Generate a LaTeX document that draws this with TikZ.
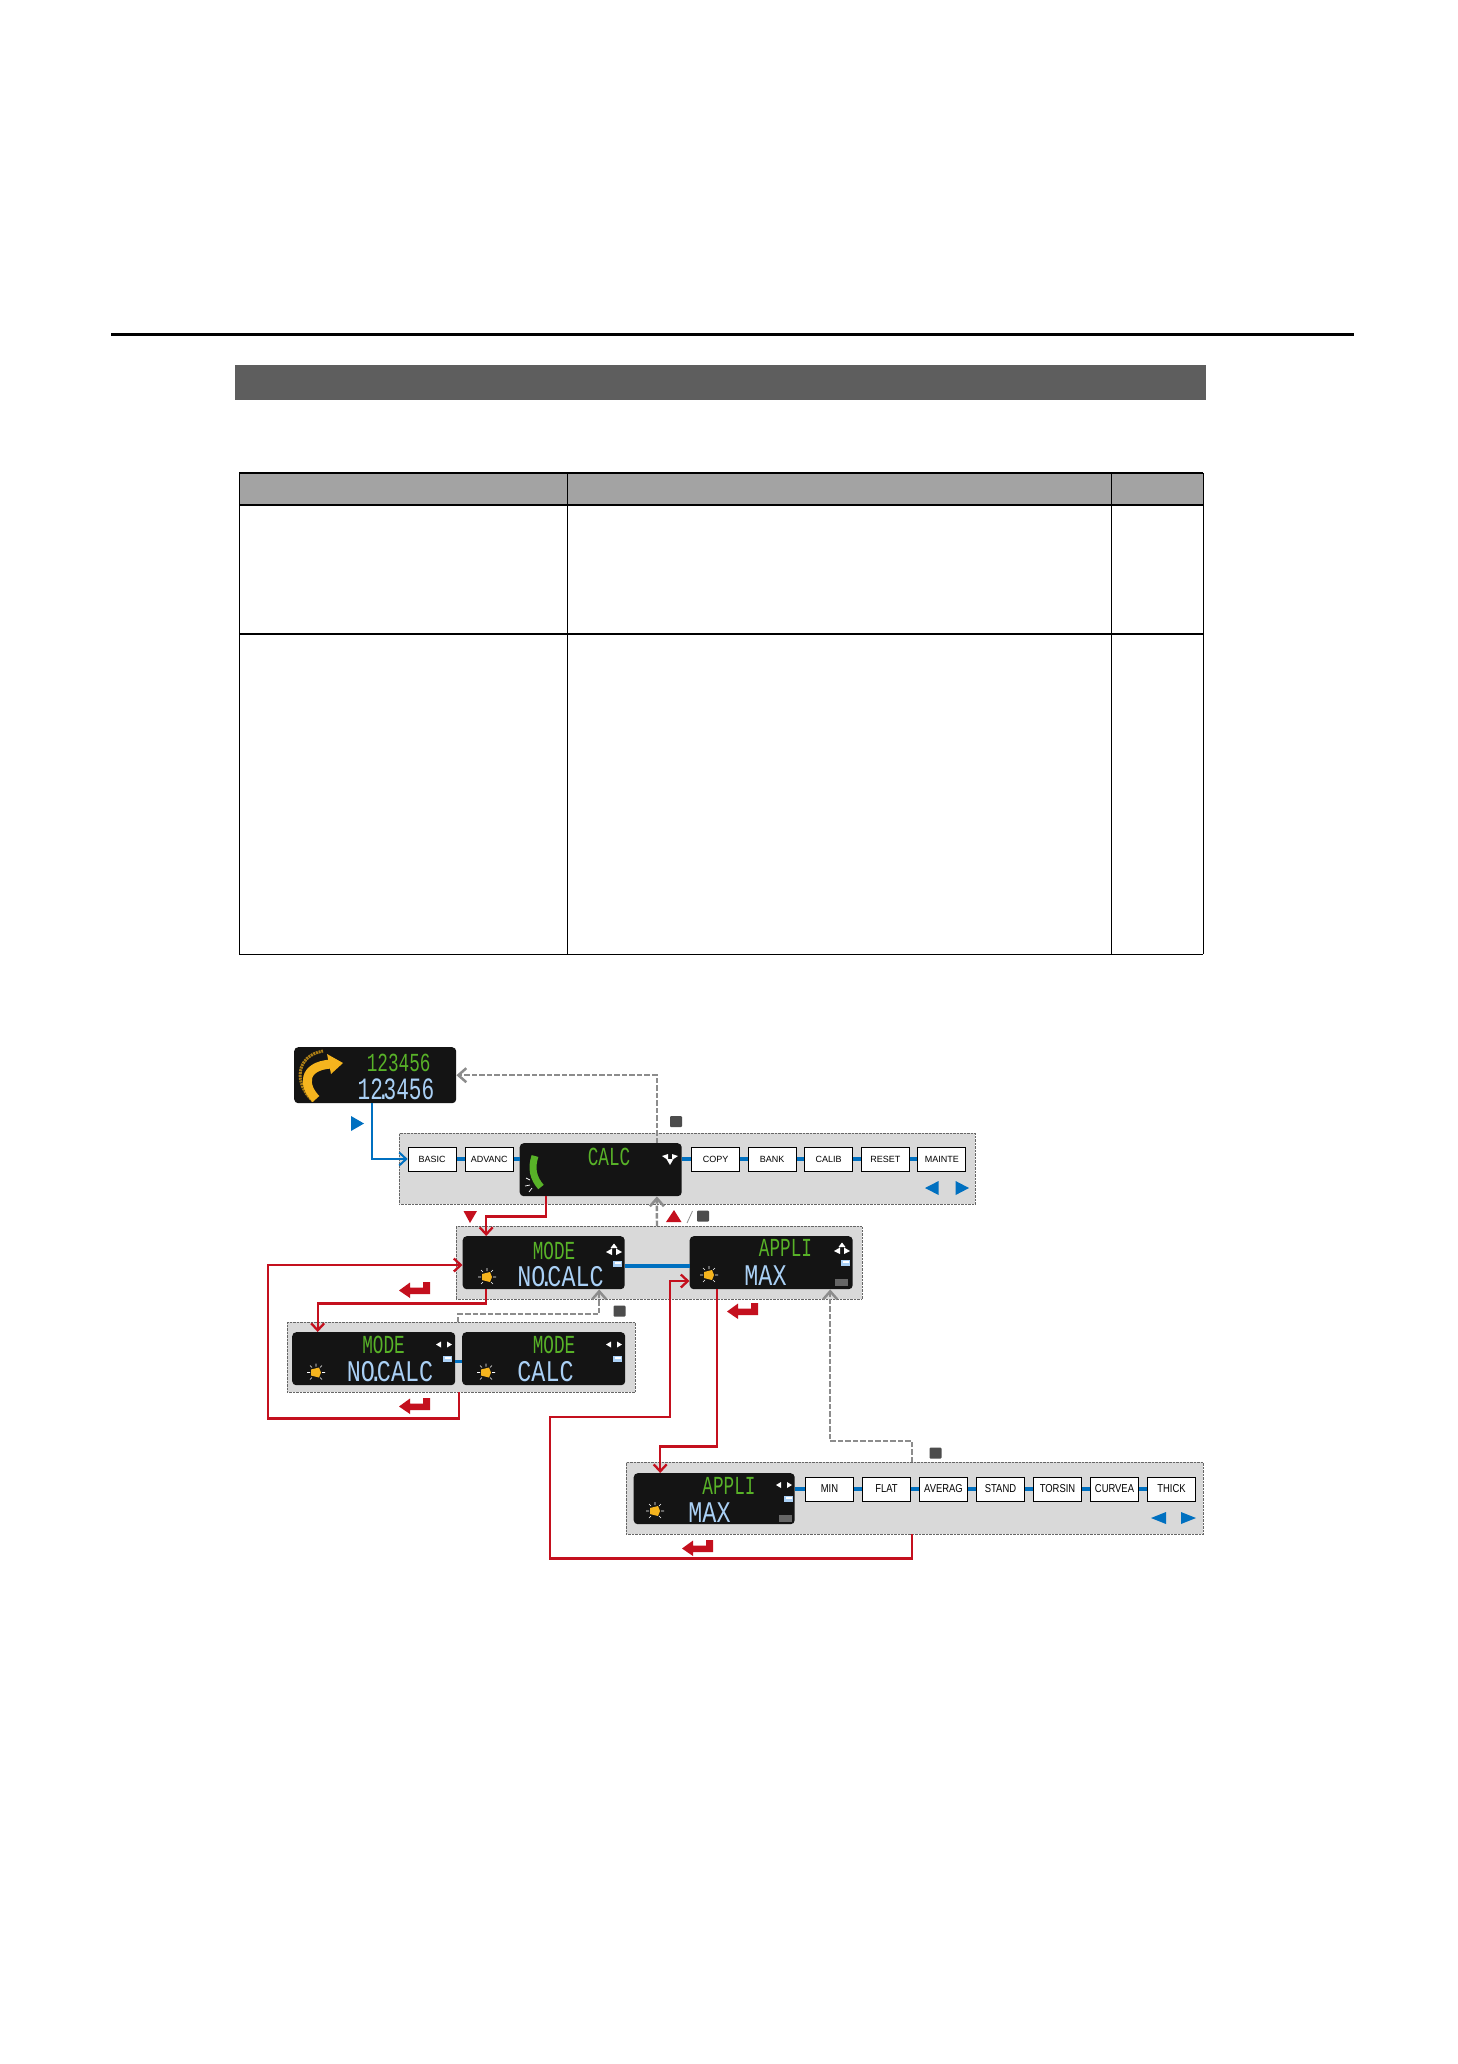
\documentclass[tikz,border=0pt]{standalone}
\usepackage{fontspec}
\setmainfont{Liberation Sans}
\newfontfamily\lcdtopfont[FakeStretch=0.68]{Liberation Mono}
\newfontfamily\lcdbotfont[FakeStretch=0.78]{Liberation Mono}
\newfontfamily\narrowfont[FakeStretch=0.82]{Liberation Sans}
\usepackage{xcolor}
\usepackage{tikz}
\usetikzlibrary{
	arrows.meta,
	positioning,
	calc
}
\definecolor{keyblue}{RGB}{0,112,192}
\definecolor{keyred}{RGB}{196,16,30}
\definecolor{backgray}{RGB}{140,140,140}
\definecolor{panelgray}{RGB}{217,217,217}
\definecolor{lcdgreen}{RGB}{88,178,40}
\definecolor{lcdblue}{RGB}{170,208,245}
\definecolor{sunorange}{RGB}{245,180,30}
\newcommand{\lcddot}{\kern-6pt.\kern-6pt}
\tikzset{
	titlebar/.style={
		fill=black!63,
		anchor=north west,
		inner sep=0pt,
		minimum width=971pt,
		minimum height=35pt
	},
	panel/.style={
		draw=black!60,
		densely dotted,
		fill=panelgray,
		anchor=north west,
		inner sep=0pt
	},
	display/.style={
		fill=black!92,
		rounded corners=4pt,
		anchor=north west,
		inner sep=0pt,
		minimum width=162pt,
		minimum height=53pt
	},
	menubox/.style={
		draw,
		fill=white,
		line width=1pt,
		inner sep=0pt,
		minimum width=48pt,
		minimum height=24pt
	},
	upperbox/.style={menubox, font=\fontsize{9}{10}\selectfont},
	lowerbox/.style={menubox, font=\fontsize{11.5}{13}\narrowfont},
	lcdtop/.style={inner sep=0pt, text=lcdgreen, font=\fontsize{26}{28}\lcdtopfont},
	lcdbot/.style={inner sep=0pt, text=lcdblue, font=\fontsize{30}{32}\lcdbotfont},
	link/.style={draw=keyblue, line width=3.2pt},
	enter/.style={
		draw=keyblue,
		line width=2pt,
		-{Straight Barb[length=7pt,width=13pt,line width=2pt]}
	},
	select/.style={
		draw=keyred,
		line width=2.3pt,
		-{Straight Barb[length=7pt,width=13pt,line width=2.3pt]}
	},
	back/.style={
		draw=backgray,
		line width=2.4pt,
		dash pattern=on 5.5pt off 2pt,
		-{Straight Barb[length=8pt,width=14pt,line width=2.5pt]}
	},
	stopkey/.style={
		fill=black!70,
		rounded corners=1pt,
		inner sep=0pt,
		minimum width=12pt,
		minimum height=11pt
	},
	pics/returnkey/.style={code={
		\fill[keyred] (0,8.5) -- (11,0.5) -- (11,5.5) -- (24,5.5) -- (24,0) -- (31,0)
			-- (31,12) -- (11,12) -- (11,16) -- cycle;
	}},
	pics/sunmark/.style={code={
		\draw[white, line width=0.6pt] (-9,0) -- (-6,0) (9,0) -- (6,0) (-6,-7) -- (-4,-5)
			(6,-7) -- (4,-5) (-6,7) -- (-4,5) (6,7) -- (4,5) (0,-9) -- (0,-6);
		\fill[sunorange] (-5,-3) -- (3,-5) -- (5,0) -- (3,5) -- (-5,3) -- cycle;
	}},
	pics/navlr/.style={code={
		\fill[white] (-8,0) -- (-3,-3) -- (-3,3) -- cycle (8,0) -- (3,-3) -- (3,3) -- cycle;
	}},
	pics/navup/.style={code={
		\fill[white] (-8,4) -- (-2,0.5) -- (-2,7) -- cycle (8,4) -- (2,0.5) -- (2,7) -- cycle
			(0,-4.5) -- (-3.5,0) -- (3.5,0) -- cycle;
	}},
	pics/navdown/.style={code={
		\fill[white] (-8,-3) -- (-2,-5) -- (-2,1) -- cycle (8,-3) -- (2,-5) -- (2,1) -- cycle
			(0,6) -- (-3.5,0) -- (3.5,0) -- cycle;
	}},
	pics/memomark/.style={code={
		\fill[lcdblue] (0,0) rectangle (9,5.5);
		\fill[white] (1.5,1) rectangle (7.5,2.5);
	}},
	pics/skipmark/.style={code={
		\fill[black!60] (0,0) rectangle (13,7);
	}}
}
\begin{document}
\begin{tikzpicture}[x=1pt, y=-1pt, node distance=8pt, line join=miter]
	\useasboundingbox (0,0) rectangle (1458,2064);
	\fill[white] (0,0) rectangle (1458,2064);

	% Page heading and the empty table
	\fill[black] (111,332.5) rectangle (1354,335.5);
	\node [titlebar] (heading) at (235,365) {};
	\fill[black!36] (239,473) rectangle (1203,505);
	\draw[line width=1.1pt] (239,473) -- (1203,473);
	\draw[line width=1.1pt] (239,505) -- (1203,505);
	\draw[line width=1.2pt] (239,634) -- (1203,634);
	\draw[line width=0.9pt] (239,954) -- (1203,954);
	\draw[line width=0.8pt] (239,473) -- (239,954);
	\draw[line width=0.8pt] (567,473) -- (567,954);
	\draw[line width=0.8pt] (1111,473) -- (1111,954);
	\draw[line width=0.8pt] (1203,473) -- (1203,954);

	% Grey panels behind each row
	\node [panel, minimum width=576pt, minimum height=71pt] (menupanel) at (399,1133) {};
	\node [panel, minimum width=405.5pt, minimum height=73pt] (setpanel) at (456,1226) {};
	\node [panel, minimum width=348pt, minimum height=70pt] (modepanel) at (287,1322) {};
	\node [panel, minimum width=577pt, minimum height=72pt] (applipanel) at (626,1462) {};

	% Row 1: Home display
	\node [display, minimum height=56pt] (home) at (294,1047) {};
	\draw[sunorange!70!black, line width=3pt, dash pattern=on 2pt off 0.8pt] (313,1101) .. controls (294,1084) and (295,1056) .. (323,1051);
	\draw[sunorange, line width=9pt] (316,1099) .. controls (303,1086) and (302,1066) .. (331,1064);
	\fill[sunorange] (327,1054) -- (343,1063) -- (331,1074) -- cycle;
	\node [lcdtop] (homeup) at (398.7,1062.5) {123456};
	\node [lcdtop, text=lcdblue, font=\fontsize{31}{33}\lcdtopfont] (homedown) at (396,1089.5) {12\lcddot 3456};

	% Row 2: Top menu
	\node [upperbox] (basic) at (432.2,1159) {BASIC};
	\node [upperbox, right=of basic] (advanc) {ADVANC};
	\node [display] (calcdisp) at (519.5,1143) {};
	\node [upperbox] (copy) at (715.5,1159) {COPY};
	\node [upperbox, right=7.6pt of copy] (bank) {BANK};
	\node [upperbox, right=7.6pt of bank] (calib) {CALIB};
	\node [upperbox, right=7.6pt of calib] (reset) {RESET};
	\node [upperbox, right=7.6pt of reset] (mainte) {MAINTE};
	\draw[lcdgreen, line width=7pt] (535,1156) .. controls (531,1168) and (533,1178) .. (541,1187);
	\draw[white, line width=0.7pt] (526,1178) -- (530,1180) (525,1186) -- (530,1185) (529,1192) -- (532,1188);
	\node [lcdtop] (calcword) at (609,1156.5) {CALC};
	\pic at (670,1159) {navdown};
	\draw[link] (basic) -- (advanc);
	\draw[link] (advanc) -- (advanc -| calcdisp.west);
	\draw[link] (calcdisp.east |- copy) -- (copy);
	\draw[link] (copy) -- (bank);
	\draw[link] (bank) -- (calib);
	\draw[link] (calib) -- (reset);
	\draw[link] (reset) -- (mainte);
	\fill[keyblue] (925,1188) -- (938.6,1181) -- (938.6,1195) -- cycle;
	\fill[keyblue] (969,1188) -- (955.6,1181) -- (955.6,1195) -- cycle;

	% Row 3: Mode and application settings
	\node [display] (modeset) at (462.5,1236) {};
	\node [display, minimum width=163pt] (appliset) at (689.5,1236) {};
	\pic at (487,1277) {sunmark};
	\pic at (709,1275) {sunmark};
	\node [lcdtop] (modeword) at (554,1250.5) {MODE};
	\node [lcdbot] (nocalc) at (560.5,1276.5) {NO\lcddot CALC};
	\node [lcdtop] (appliword) at (785.5,1248) {APPLI};
	\node [lcdbot] (maxword) at (765.5,1276) {MAX};
	\pic at (614,1248) {navup};
	\pic at (613,1261) {memomark};
	\pic at (842,1247) {navup};
	\pic at (841,1260) {memomark};
	\pic at (835,1279) {skipmark};
	\draw[link, line width=3.6pt] ([yshift=-3.5pt]modeset.east) -- ([yshift=-3.5pt]modeset.east -| appliset.west);

	% Row 4: Mode choices
	\node [display, minimum width=163pt] (nocalcdisp) at (292,1332) {};
	\node [display, minimum width=163pt] (calcchoice) at (462,1332) {};
	\pic at (316,1372.5) {sunmark};
	\pic at (486,1372.5) {sunmark};
	\node [lcdtop] (modeleft) at (383.5,1344.5) {MODE};
	\node [lcdbot] (nocalcleft) at (390,1372) {NO\lcddot CALC};
	\node [lcdtop] (moderight) at (554,1344.5) {MODE};
	\node [lcdbot] (calcright) at (545.5,1372) {CALC};
	\pic at (444,1344.5) {navlr};
	\pic at (614,1344.5) {navlr};
	\pic at (443,1356) {memomark};
	\pic at (613,1356) {memomark};
	\draw[link] ([yshift=-2.5pt]nocalcdisp.east) -- ([yshift=-2.5pt]calcchoice.west);

	% Row 5: Application choices
	\node [display, minimum width=161pt, minimum height=51pt] (applidisp) at (633.5,1473) {};
	\node [lowerbox] (minbox) at (829.5,1489) {MIN};
	\node [lowerbox, right=of minbox] (flat) {FLAT};
	\node [lowerbox, right=of flat] (averag) {AVERAG};
	\node [lowerbox, right=of averag] (stand) {STAND};
	\node [lowerbox, right=of stand] (torsin) {TORSIN};
	\node [lowerbox, right=of torsin] (curvea) {CURVEA};
	\node [lowerbox, right=of curvea] (thick) {THICK};
	\pic at (655,1511) {sunmark};
	\node [lcdtop] (appliline) at (729,1486) {APPLI};
	\node [lcdbot] (maxline) at (709.5,1512.5) {MAX};
	\pic at (784,1485) {navlr};
	\pic at (784,1496) {memomark};
	\pic at (779,1515) {skipmark};
	\draw[link] (applidisp.east |- minbox) -- (minbox);
	\draw[link] (minbox) -- (flat);
	\draw[link] (flat) -- (averag);
	\draw[link] (averag) -- (stand);
	\draw[link] (stand) -- (torsin);
	\draw[link] (torsin) -- (curvea);
	\draw[link] (curvea) -- (thick);
	\fill[keyblue] (1151,1518) -- (1166,1512) -- (1166,1524) -- cycle;
	\fill[keyblue] (1196,1518) -- (1181,1512) -- (1181,1524) -- cycle;

	% Key marks next to the connectors
	\fill[keyblue] (364,1123.5) -- (351,1116) -- (351,1131) -- cycle;
	\fill[keyred] (470,1223) -- (463.5,1211) -- (477,1211) -- cycle;
	\fill[keyred] (674,1210) -- (681.5,1222) -- (666,1222) -- cycle;
	\draw[backgray, line width=0.8pt] (687,1223) -- (692.5,1211);
	\node [stopkey] (stopa) at (676,1121.5) {};
	\node [stopkey] (stopb) at (703,1216) {};
	\node [stopkey] (stopc) at (619.5,1311) {};
	\node [stopkey] (stopd) at (935.5,1453) {};
	\pic at (399,1282) {returnkey};
	\pic at (399,1398) {returnkey};
	\pic at (727,1303) {returnkey};
	\pic at (682,1540) {returnkey};

	% Edges & Connections
	\draw [enter] ([xshift=-3pt]home.south) |- (basic);
	\draw [select] ([xshift=-54.5pt]calcdisp.south) -- ++(0,20) -| ([xshift=-57.5pt]modeset.north);
	\draw [select] ([xshift=-57.5pt]modeset.south) -- ++(0,14) -| ([xshift=-56pt]nocalcdisp.north);
	\draw [select] ([xshift=-2pt]modepanel.south) -- ++(0,26) -| (268,1265) -- (modeset.west |- 0,1265);
	\draw [select] ([xshift=-54pt]appliset.south) -- ++(0,157) -| ([xshift=-54pt]applidisp.north);
	\draw [select] ([xshift=-2.5pt]applipanel.south) -- ++(0,24) -| (550,1417) -| (670,1281) -- (appliset.west |- 0,1281);

	% Back connections
	\draw [back] ([xshift=56.2pt]calcdisp.north) |- (home.east);
	\draw [back] ([xshift=-2pt]setpanel.north) -- ([xshift=56.2pt]calcdisp.south);
	\draw [back] ([xshift=-3pt]modepanel.north) -- ++(0,-8) -| ([xshift=55.5pt]modeset.south);
	\draw [back] ([xshift=-2.5pt]applipanel.north) -- ++(0,-21) -| ([xshift=59pt]appliset.south);
\end{tikzpicture}
\end{document}
